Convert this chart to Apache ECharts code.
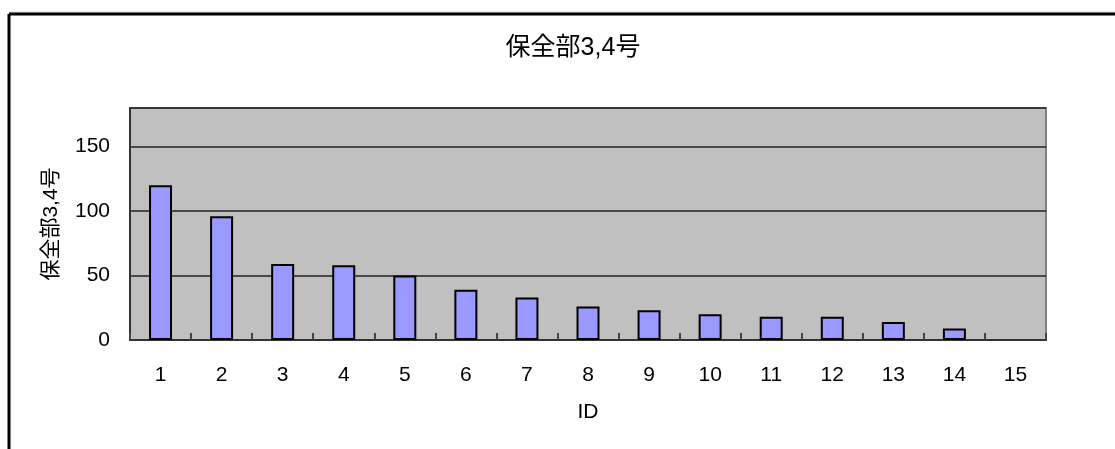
<!DOCTYPE html>
<html>
<head>
<meta charset="utf-8">
<title>保全部3,4号</title>
<script src="https://cdn.jsdelivr.net/npm/echarts@6/dist/echarts.min.js"></script>
<style>
  html, body { margin: 0; padding: 0; background: #ffffff; }
  #chart { width: 1115px; height: 449px; }
</style>
</head>
<body>
<div id="chart"></div>
<script>
// Record counts per ID (ID 15 has no records)
const categories = ['1', '2', '3', '4', '5', '6', '7', '8', '9', '10', '11', '12', '13', '14', '15'];
const counts = [120, 96, 59, 58, 50, 39, 33, 26, 23, 20, 18, 18, 14, 9, null];
const titleText = '保全部3,4号';
const yAxisName = '保全部3,4号';
const xAxisName = 'ID';

const FONT = '"Liberation Sans", Arial, "Noto Sans CJK JP", sans-serif';

const chart = echarts.init(document.getElementById('chart'), null, { renderer: 'canvas' });

chart.setOption({
  animation: false,
  backgroundColor: '#ffffff',
  title: {
    text: titleText,
    left: 568,
    top: 31,
    textAlign: 'center',
    textStyle: { fontFamily: FONT, fontSize: 25, fontWeight: 'normal', color: '#000000' }
  },
  grid: {
    left: 130,
    right: 69,
    top: 108,
    bottom: 109,
    show: true,
    backgroundColor: '#C0C0C0',
    borderColor: '#808080',
    borderWidth: 2
  },
  xAxis: {
    type: 'category',
    data: categories,
    name: xAxisName,
    nameLocation: 'middle',
    nameGap: 62,
    nameTextStyle: { fontFamily: FONT, fontSize: 21, color: '#000000' },
    axisLine: { show: true, lineStyle: { color: '#333333', width: 2 } },
    axisTick: { show: true, inside: true, length: 7, alignWithLabel: false, lineStyle: { color: '#444444', width: 2 } },
    axisLabel: { margin: 25, fontFamily: FONT, fontSize: 21, color: '#000000' },
    splitLine: { show: false }
  },
  yAxis: {
    type: 'value',
    min: 0,
    max: 180,
    interval: 50,
    name: yAxisName,
    nameLocation: 'middle',
    nameGap: 68,
    nameRotate: 90,
    nameTextStyle: { fontFamily: FONT, fontSize: 21, color: '#000000' },
    axisLine: { show: true, lineStyle: { color: '#333333', width: 2 } },
    axisTick: { show: false },
    axisLabel: { margin: 20, fontFamily: FONT, fontSize: 21, color: '#000000', showMaxLabel: false },
    splitLine: { show: true, lineStyle: { color: '#222222', width: 1.5 } }
  },
  series: [{
    type: 'bar',
    data: counts,
    barWidth: 23,
    itemStyle: { color: '#9999FF', borderColor: '#000000', borderWidth: 2 }
  }],
  graphic: [
    {
      type: 'line',
      shape: { x1: 9, y1: 12, x2: 1115, y2: 12 },
      style: { stroke: '#d8d8d8', lineWidth: 1 },
      silent: true
    },
    {
      type: 'line',
      shape: { x1: 9, y1: 14, x2: 1115, y2: 14 },
      style: { stroke: '#000000', lineWidth: 3 },
      silent: true
    },
    {
      type: 'line',
      shape: { x1: 9, y1: 14, x2: 9, y2: 449 },
      style: { stroke: '#000000', lineWidth: 3 },
      silent: true
    }
  ]
});
</script>
</body>
</html>
